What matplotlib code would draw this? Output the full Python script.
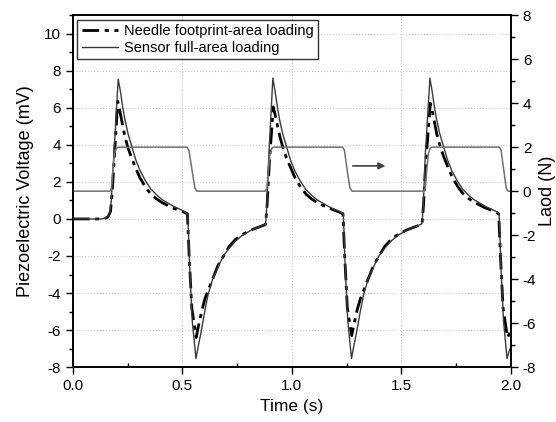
import numpy as np
import matplotlib
matplotlib.use("Agg")
import matplotlib.pyplot as plt
from matplotlib.ticker import MultipleLocator

plt.rcParams['font.family'] = ['Liberation Sans', 'DejaVu Sans']
plt.rcParams['axes.unicode_minus'] = False

# Sensor full-area loading (mV)
t_sensor = [0.000, 0.130, 0.150, 0.168, 0.175,
            0.207, 0.217, 0.227, 0.237, 0.252, 0.267, 0.287, 0.307, 0.332, 0.357, 0.382, 0.407, 0.457, 0.507, 0.525,
            0.533, 0.545, 0.562,
            0.572, 0.587, 0.602, 0.617, 0.637, 0.662, 0.687, 0.712, 0.742, 0.772, 0.812, 0.852, 0.880,
            0.886, 0.895, 0.913,
            0.923, 0.933, 0.943, 0.958, 0.973, 0.993, 1.013, 1.038, 1.063, 1.088, 1.113, 1.163, 1.213, 1.235,
            1.243, 1.255, 1.272,
            1.282, 1.297, 1.312, 1.327, 1.347, 1.372, 1.397, 1.422, 1.452, 1.482, 1.522, 1.562, 1.594,
            1.600, 1.609, 1.630,
            1.640, 1.650, 1.660, 1.675, 1.690, 1.710, 1.730, 1.755, 1.780, 1.805, 1.830, 1.880, 1.930, 1.946,
            1.954, 1.966, 1.982, 1.990, 2.000]
v_sensor = [0.00, 0.00, 0.05, 0.25, 0.90,
            7.55, 6.90, 6.10, 5.40, 4.60, 4.00, 3.20, 2.60, 2.05, 1.60, 1.30, 1.05, 0.70, 0.42, 0.25,
            -2.50, -5.50, -7.53,
            -6.90, -6.00, -5.00, -4.10, -3.30, -2.60, -2.00, -1.60, -1.20, -0.90, -0.62, -0.42, -0.28,
            0.80, 3.50, 7.60,
            6.90, 6.10, 5.40, 4.60, 4.00, 3.20, 2.60, 2.05, 1.60, 1.30, 1.05, 0.70, 0.42, 0.25,
            -2.50, -5.50, -7.53,
            -6.90, -6.00, -5.00, -4.10, -3.30, -2.60, -2.00, -1.60, -1.20, -0.90, -0.62, -0.42, -0.26,
            0.80, 3.50, 7.60,
            6.90, 6.10, 5.40, 4.60, 4.00, 3.20, 2.60, 2.05, 1.60, 1.30, 1.05, 0.70, 0.42, 0.25,
            -2.50, -5.50, -7.53, -7.20, -6.90]

# Needle footprint-area loading (mV)
t_needle = [0.000, 0.140, 0.160, 0.172, 0.180,
            0.205, 0.215, 0.225, 0.235, 0.250, 0.265, 0.285, 0.305, 0.330, 0.355, 0.380, 0.405, 0.455, 0.505, 0.523,
            0.531, 0.543, 0.563,
            0.573, 0.588, 0.603, 0.623, 0.643, 0.663, 0.688, 0.713, 0.743, 0.773, 0.813, 0.853, 0.880,
            0.887, 0.897, 0.915,
            0.925, 0.935, 0.945, 0.960, 0.975, 0.995, 1.015, 1.040, 1.065, 1.090, 1.115, 1.165, 1.215, 1.233,
            1.241, 1.253, 1.273,
            1.283, 1.298, 1.313, 1.333, 1.353, 1.373, 1.398, 1.423, 1.453, 1.483, 1.523, 1.563, 1.594,
            1.601, 1.611, 1.632,
            1.642, 1.652, 1.662, 1.677, 1.692, 1.712, 1.732, 1.757, 1.782, 1.807, 1.832, 1.882, 1.932, 1.944,
            1.952, 1.964, 1.984, 1.992, 2.000]
v_needle = [0.00, 0.00, 0.10, 0.40, 1.50,
            6.35, 5.80, 5.20, 4.60, 3.90, 3.40, 2.80, 2.25, 1.75, 1.35, 1.10, 0.90, 0.60, 0.38, 0.28,
            -2.00, -4.80, -6.40,
            -5.80, -5.00, -4.30, -3.70, -3.10, -2.50, -2.00, -1.50, -1.10, -0.85, -0.60, -0.42, -0.30,
            0.80, 3.00, 6.05,
            5.55, 5.00, 4.45, 3.80, 3.30, 2.75, 2.20, 1.72, 1.33, 1.08, 0.88, 0.60, 0.38, 0.28,
            -2.00, -4.80, -6.30,
            -5.70, -4.90, -4.30, -3.70, -3.10, -2.50, -2.00, -1.50, -1.10, -0.85, -0.60, -0.42, -0.28,
            0.80, 3.00, 6.25,
            5.75, 5.15, 4.55, 3.90, 3.40, 2.80, 2.25, 1.75, 1.35, 1.10, 0.90, 0.60, 0.38, 0.28,
            -2.00, -4.80, -6.40, -6.20, -6.00]

# Load (N)
t_load = [0.000, 0.170, 0.176, 0.182, 0.190, 0.198, 0.208,
          0.522, 0.530, 0.545, 0.557, 0.566,
          0.880, 0.886, 0.892, 0.900, 0.908, 0.918,
          1.232, 1.240, 1.253, 1.265, 1.274,
          1.603, 1.609, 1.615, 1.623, 1.631, 1.640,
          1.948, 1.955, 1.968, 1.978, 1.986, 2.000]
f_load = [0.00, 0.00, 0.15, 0.90, 1.70, 1.95, 2.00,
          2.00, 1.85, 0.90, 0.15, 0.00,
          0.00, 0.15, 0.90, 1.70, 1.95, 2.00,
          2.00, 1.85, 0.90, 0.15, 0.00,
          0.00, 0.15, 0.90, 1.70, 1.95, 2.00,
          2.00, 1.85, 0.90, 0.15, 0.00, 0.00]

fig = plt.figure(figsize=(5.56, 4.22), dpi=100)
ax = fig.add_axes([0.131, 0.130, 0.788, 0.834])
ax2 = ax.twinx()

l1, = ax.plot(t_needle, v_needle, color='black', lw=2.0, dashes=(6, 2, 1.5, 2),
              label='Needle footprint-area loading')
l2, = ax.plot(t_sensor, v_sensor, color='#3a3a3a', lw=1.0, label='Sensor full-area loading')
ax2.plot(t_load, f_load, color='#707070', lw=1.1)

ax.set_xlim(0, 2.0)
ax.set_ylim(-8, 11)
ax2.set_ylim(-8, 8)

ax.xaxis.set_major_locator(MultipleLocator(0.5))
ax.xaxis.set_minor_locator(MultipleLocator(0.25))
ax.yaxis.set_major_locator(MultipleLocator(2))
ax.yaxis.set_minor_locator(MultipleLocator(1))
ax2.yaxis.set_major_locator(MultipleLocator(2))
ax2.yaxis.set_minor_locator(MultipleLocator(1))

ax.xaxis.set_major_formatter(plt.FuncFormatter(lambda v, p: f'{v:.1f}'))

ax.tick_params(axis='both', which='major', labelsize=11, length=5, width=1, direction='out')
ax.tick_params(axis='x', which='minor', length=3, width=1, direction='in')
ax.tick_params(axis='y', which='minor', length=3, width=1, direction='out')
ax2.tick_params(axis='y', which='major', labelsize=11, length=5, width=1, direction='out')
ax2.tick_params(axis='y', which='minor', length=3, width=1, direction='out')

ax.grid(True, which='major', color='#cccccc', linestyle=':', linewidth=0.8)
for sp in ax.spines.values():
    sp.set_linewidth(1.2)
for sp in ax2.spines.values():
    sp.set_linewidth(1.2)

ax.set_xlabel('Time (s)', fontsize=12.5, labelpad=4)
ax.set_ylabel('Piezoelectric Voltage (mV)', fontsize=13, labelpad=7)
ax2.set_ylabel('Laod (N)', fontsize=13, labelpad=2)

ax2.annotate('', xy=(1.44, 1.15), xytext=(1.265, 1.15),
             arrowprops=dict(arrowstyle='-|>', color='#404040', lw=1.2, mutation_scale=10))

leg = ax2.legend(handles=[l1, l2], loc='upper left', fontsize=10.5, frameon=True, fancybox=False,
                 edgecolor='#333333', framealpha=1, handlelength=2.5, borderpad=0.3,
                 labelspacing=0.2, handletextpad=0.4, borderaxespad=0.3)
leg.get_frame().set_linewidth(1.0)

fig.savefig('out.png', dpi=100)
